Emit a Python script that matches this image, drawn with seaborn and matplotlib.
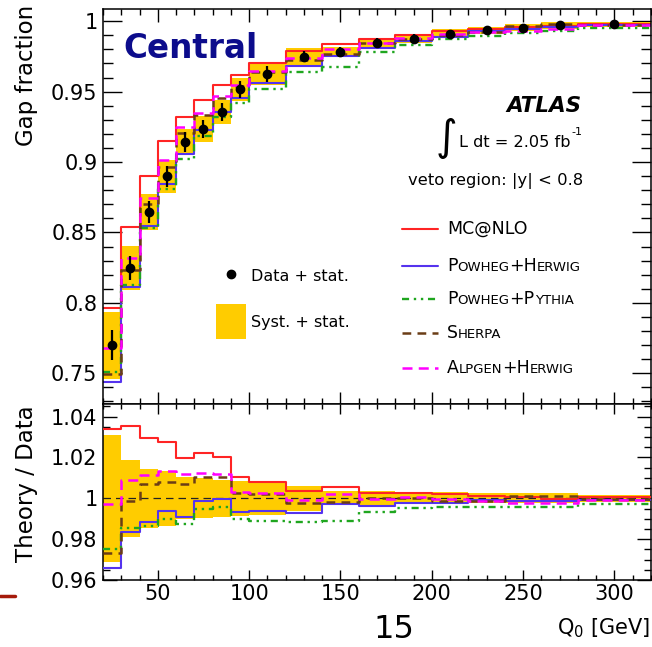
import numpy as np
import pandas as pd
import matplotlib
matplotlib.use("Agg")
import matplotlib.pyplot as plt
import seaborn as sns
from matplotlib.ticker import MultipleLocator, FixedLocator, FuncFormatter
from matplotlib.offsetbox import TextArea, HPacker, AnnotationBbox
from matplotlib.patches import Rectangle
from matplotlib.lines import Line2D

# ---------------- data ----------------
bin_edges = [20, 30, 40, 50, 60, 70, 80, 90, 100, 120, 140, 160, 180, 200, 220, 240, 260, 280, 320]
data_gap = [0.770, 0.8247, 0.8645, 0.8899, 0.9141, 0.9236, 0.9357, 0.9516, 0.9623,
            0.9749, 0.9784, 0.9848, 0.9877, 0.9912, 0.9936, 0.9955, 0.9972, 0.9979]
data_stat = [0.0107, 0.0083, 0.0078, 0.0075, 0.007, 0.0065, 0.0065, 0.006, 0.0057,
             0.004, 0.0035, 0.003, 0.003, 0.0025, 0.002, 0.002, 0.002, 0.002]
syst_rel = [0.031, 0.019, 0.0145, 0.0134, 0.0103, 0.0098, 0.0092, 0.0085, 0.008,
            0.006, 0.0035, 0.0035, 0.003, 0.003, 0.0025, 0.0025, 0.0025, 0.0018]

ratio_mcatnlo = [1.0338, 1.0356, 1.0294, 1.0278, 1.0196, 1.0220, 1.0201, 1.0106, 1.0082,
                 1.0038, 1.0057, 1.0028, 1.0028, 1.0021, 1.0012, 1.0005, 0.9995, 1.0005]
ratio_powheg_herwig = [0.9657, 0.9837, 0.9886, 0.9940, 0.9907, 0.9989, 0.9995, 0.9935, 0.9938,
                       0.9930, 0.9972, 0.9962, 0.9979, 0.9979, 0.9992, 0.9987, 0.9987, 0.9992]
ratio_powheg_pythia = [0.9750, 0.9853, 0.9865, 0.9899, 0.9873, 0.9948, 0.9959, 0.9897, 0.9891,
                       0.9886, 0.9891, 0.9935, 0.9951, 0.9959, 0.9959, 0.9959, 0.9959, 0.9972]
ratio_sherpa = [0.9731, 0.9987, 1.0069, 1.0078, 1.0069, 1.0106, 1.0106, 1.0024, 1.0020,
                0.9976, 0.9980, 1.0000, 1.0000, 0.9987, 0.9987, 1.0010, 1.0010, 0.9997]
ratio_alpgen = [0.9971, 1.0090, 1.0114, 1.0134, 1.0118, 1.0122, 1.0118, 1.0033, 1.0024,
                0.9992, 1.0021, 0.9995, 1.0005, 0.9997, 0.9987, 0.9976, 0.9976, 0.9992]

series_names = ["MC@NLO", "Powheg+Herwig", "Powheg+Pythia", "Sherpa", "Alpgen+Herwig"]
series_ratio = [ratio_mcatnlo, ratio_powheg_herwig, ratio_powheg_pythia, ratio_sherpa, ratio_alpgen]
series_color = ["#ff2424", "#5533ee", "#1fa61f", "#6b3d16", "#ff00ff"]
series_ls = ["-", "-", (0, (3, 2, 1, 2, 1, 2)), (0, (3.5, 2.5)), (0, (4, 2.5))]
series_lw = [1.5, 1.5, 1.7, 1.8, 1.8]

edges = np.array(bin_edges, float)
centers = 0.5 * (edges[:-1] + edges[1:])
widths = np.diff(edges)
gap = np.array(data_gap)
srel = np.array(syst_rel)

# ---------------- style ----------------
sns.set_style("ticks")
plt.rcParams["font.family"] = ["DejaVu Sans"]
plt.rcParams["axes.linewidth"] = 1.1
plt.rcParams["axes.edgecolor"] = "black"
plt.rcParams["text.color"] = "black"
plt.rcParams["xtick.color"] = "black"
plt.rcParams["ytick.color"] = "black"

W, H = 652, 647
fig = plt.figure(figsize=(W / 100, H / 100), dpi=100)

def fx(px):
    return px / W

def fy(py):
    return 1 - py / H

L, R = 103, 651
ax = fig.add_axes([fx(L), fy(404), fx(R) - fx(L), fy(9) - fy(404)])
axr = fig.add_axes([fx(L), fy(580), fx(R) - fx(L), fy(404) - fy(580)])

YEL = "#ffcc00"

def steps(a, x, vals, color, ls, lw, z):
    y = list(vals) + [vals[-1]]
    sns.lineplot(x=list(x), y=y, ax=a, color=color, linestyle=ls, lw=lw,
                 drawstyle="steps-post", estimator=None, sort=False, legend=False,
                 zorder=z)

# ---- top panel ----
ax.bar(edges[:-1], 2 * gap * srel, bottom=gap * (1 - srel), width=widths, align="edge",
       color=YEL, linewidth=0, zorder=1)
for nm, r, c, ls, lw in zip(series_names, series_ratio, series_color, series_ls, series_lw):
    steps(ax, edges, gap * np.array(r), c, ls, lw, 2)
ax.errorbar(centers, gap, yerr=data_stat, fmt="o", color="black", ms=6,
            elinewidth=1.6, capsize=0, zorder=4)

ax.set_xlim(20, 320)
ax.set_ylim(0.7282, 1.0087)
ax.xaxis.set_major_locator(MultipleLocator(50))
ax.xaxis.set_minor_locator(MultipleLocator(10))
ax.yaxis.set_major_locator(MultipleLocator(0.05))
ax.yaxis.set_minor_locator(MultipleLocator(0.01))
ax.yaxis.set_major_formatter(FuncFormatter(lambda v, p: f"{v:g}"))
ax.tick_params(axis="both", which="both", direction="in", top=True, right=True,
               width=1.0, labelsize=15, colors="black")
ax.tick_params(axis="y", which="major", length=14, pad=4)
ax.tick_params(axis="y", which="minor", length=7)
ax.tick_params(axis="x", which="major", length=9, labelbottom=False)
ax.tick_params(axis="x", which="minor", length=4.5)
ax.set_xlabel("")
ax.set_ylabel("")

# ---- ratio panel ----
axr.bar(edges[:-1], 2 * srel, bottom=1 - srel, width=widths, align="edge",
        color=YEL, linewidth=0, zorder=1)
axr.axhline(1.0, color="#222222", lw=0.9, ls=(0, (6, 4)), zorder=2)
for nm, r, c, ls, lw in zip(series_names, series_ratio, series_color, series_ls, series_lw):
    steps(axr, edges, r, c, ls, lw, 3)
axr.set_xlim(20, 320)
axr.set_ylim(0.96, 1.0462)
axr.xaxis.set_major_locator(MultipleLocator(50))
axr.xaxis.set_minor_locator(MultipleLocator(10))
axr.yaxis.set_major_locator(FixedLocator([0.96, 0.98, 1.0, 1.02, 1.04]))
axr.yaxis.set_minor_locator(MultipleLocator(0.005))
axr.yaxis.set_major_formatter(FuncFormatter(lambda v, p: f"{v:g}"))
axr.tick_params(axis="both", which="both", direction="in", top=True, right=True,
                width=1.0, labelsize=15, colors="black")
axr.tick_params(axis="y", which="major", length=10, pad=4)
axr.tick_params(axis="y", which="minor", length=5)
axr.tick_params(axis="x", which="major", length=7, pad=3)
axr.tick_params(axis="x", which="minor", length=3.5)
axr.set_xlabel("")
axr.set_ylabel("")

# ---- axis titles ----
fig.text(fx(27), fy(5), "Gap fraction", rotation=90, ha="center", va="top", size=16.5)
fig.text(fx(27), fy(405), "Theory / Data", rotation=90, ha="center", va="top", size=16.5)
fig.text(fx(650), fy(628), r"Q$_0$ [GeV]", ha="right", va="center", size=15)
fig.text(fx(394), fy(629), "15", ha="center", va="center", size=23)
fig.add_artist(Line2D([0, fx(15)], [fy(596), fy(596)], color="#a51b0b", lw=2.5))

# ---- annotations ----
fig.text(fx(123), fy(58), "Central", weight="bold", size=23.5, color="#0c0c8c", va="baseline")
fig.text(fx(582), fy(112), "ATLAS", ha="right", va="baseline", weight="bold",
         style="italic", size=15.5)
fig.text(fx(446), fy(138), "\u222b", ha="center", va="center", size=30)
fig.text(fx(459), fy(147), "L dt = 2.05 fb", ha="left", va="baseline", size=11.6)
fig.text(fx(571), fy(132), "-1", ha="left", va="center", size=8)
fig.text(fx(408), fy(185), "veto region: |y| < 0.8", ha="left", va="baseline", size=11.8)

# left legend
fig.add_artist(Line2D([fx(231)], [fy(274)], marker="o", ms=6, color="black", lw=0))
fig.text(fx(251), fy(276), "Data + stat.", ha="left", va="center", size=11.5)
fig.add_artist(Rectangle((fx(216), fy(339)), fx(30), 35 / H, transform=fig.transFigure,
                         color=YEL, lw=0))
fig.text(fx(251), fy(322), "Syst. + stat.", ha="left", va="center", size=11.5)

# right legend with small caps
legend_y = [229, 266, 299, 333, 368]
legend_parts = [
    [("MC@NLO", 12.5)],
    [("P", 12.5), ("OWHEG", 9.5), ("+H", 12.5), ("ERWIG", 9.5)],
    [("P", 12.5), ("OWHEG", 9.5), ("+P", 12.5), ("YTHIA", 9.5)],
    [("S", 12.5), ("HERPA", 9.5)],
    [("A", 12.5), ("LPGEN", 9.5), ("+H", 12.5), ("ERWIG", 9.5)],
]
for yy, parts, c, ls, lw in zip(legend_y, legend_parts, series_color, series_ls, series_lw):
    fig.add_artist(Line2D([fx(402), fx(438)], [fy(yy), fy(yy)], color=c, ls=ls, lw=lw))
    box = HPacker(children=[TextArea(s, textprops=dict(size=sz, color="black"))
                            for s, sz in parts], align="baseline", pad=0, sep=0)
    ab = AnnotationBbox(box, (fx(447), fy(yy)), xycoords="figure fraction",
                        box_alignment=(0, 0.5), frameon=False, pad=0)
    fig.add_artist(ab)

fig.savefig("out.png", dpi=100)
